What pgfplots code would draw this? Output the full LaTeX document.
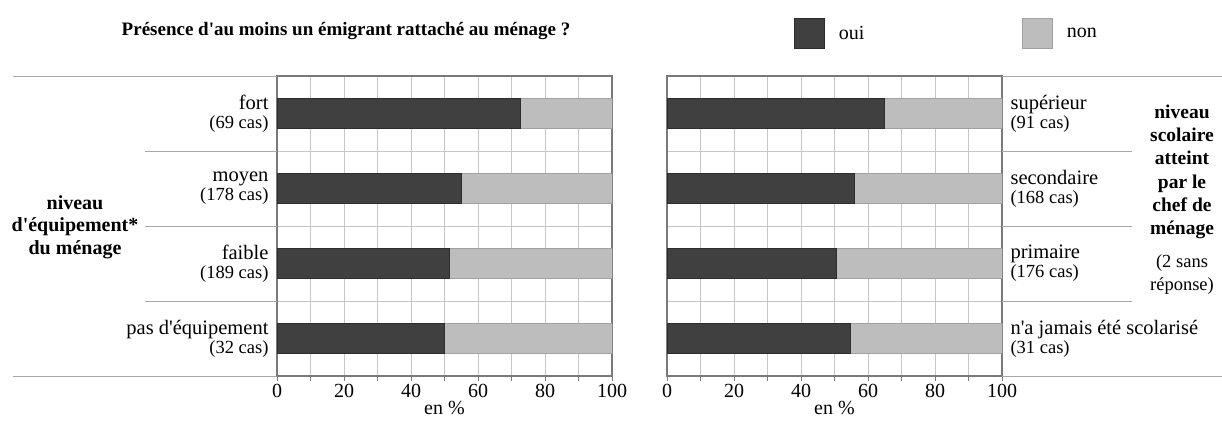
\documentclass[border=0pt]{standalone}
\usepackage{pgfplots}
\pgfplotsset{compat=1.18}
\usepackage{fontspec}
\setmainfont{Liberation Serif}
\definecolor{darkbar}{HTML}{404040}
\definecolor{lightbar}{HTML}{BDBDBD}
\definecolor{gridc}{HTML}{C6C6C6}
\definecolor{framec}{HTML}{7A7A7A}
\definecolor{sepc}{HTML}{A8A8A8}
\newcommand{\q}{\textquotesingle}
\begin{document}
\begin{tikzpicture}[x=1bp,y=1bp]
\useasboundingbox (0,0) rectangle (1222,424);
\pgfplotsset{
  mybars/.style={
    scale only axis, width=335bp, height=300bp,
    xbar stacked, bar width=30bp,
    xmin=0, xmax=100, ymin=-0.5, ymax=3.5,
    xtick={0,20,...,100}, minor xtick={10,30,...,90},
    ytick={0,1,2,3},
    minor ytick={-0.2,0.2,0.5,0.8,1.2,1.5,1.8,2.2,2.5,2.8,3.2},
    xmajorgrids, xminorgrids, yminorgrids, ymajorgrids=false,
    grid style={gridc, line width=0.8bp},
    minor grid style={gridc, line width=0.8bp},
    axis line style={framec, line width=1.3bp},
    tick align=outside, xtick pos=left,
    major x tick style={framec, line width=0.8bp},
    minor x tick style={framec, line width=0.8bp},
    major tick length=5bp, minor tick length=5bp,
    major y tick style={draw=none}, minor y tick style={draw=none},
    /pgf/number format/assume math mode=true,
    xticklabel style={font=\fontsize{20bp}{22bp}\selectfont, inner sep=3bp},
    xlabel={en \%},
    xlabel style={font=\fontsize{20bp}{22bp}\selectfont, yshift=3bp},
    yticklabel style={font=\fontsize{20.5bp}{19bp}\selectfont},
  },
  dk/.style={fill=darkbar, draw=darkbar!70!black, line width=0.6bp},
  lt/.style={fill=lightbar, draw=lightbar!85!black, line width=0.6bp},
}
% left axis
\begin{axis}[mybars, at={(277bp,48bp)}, anchor=south west,
  yticklabel style={align=right},
  yticklabels={{pas d\q équipement\\{\fontsize{18.5bp}{19bp}\selectfont(32 cas)}},
               {faible\\{\fontsize{18.5bp}{19bp}\selectfont(189 cas)}},
               {moyen\\{\fontsize{18.5bp}{19bp}\selectfont(178 cas)}},
               {fort\\{\fontsize{18.5bp}{19bp}\selectfont(69 cas)}}},
]
\addplot[dk] coordinates {(50.0,0) (51.3,1) (55.1,2) (72.5,3)};
\addplot[lt] coordinates {(50.0,0) (48.7,1) (44.9,2) (27.5,3)};
\end{axis}
% right axis
\begin{axis}[mybars, at={(667bp,48bp)}, anchor=south west,
  yticklabel pos=right,
  yticklabel style={align=left, anchor=west},
  yticklabels={{n\q a jamais été scolarisé\\{\fontsize{18.5bp}{19bp}\selectfont(31 cas)}},
               {primaire\\{\fontsize{18.5bp}{19bp}\selectfont(176 cas)}},
               {secondaire\\{\fontsize{18.5bp}{19bp}\selectfont(168 cas)}},
               {supérieur\\{\fontsize{18.5bp}{19bp}\selectfont(91 cas)}}},
  legend columns=2,
  legend cell align=left,
  legend image code/.code={\draw[#1] (0bp,-15bp) rectangle (30bp,15bp); \path (42bp,0bp);},
  legend style={at={(rel axis cs:0.379,1)}, anchor=south west, yshift=27bp,
    draw=none, fill=none, inner sep=0pt,
    font=\fontsize{20bp}{22bp}\selectfont,
    nodes={inner sep=2bp},
    /tikz/every even column/.append style={column sep=156bp}},
]
\addplot[dk] coordinates {(54.8,0) (50.6,1) (56.0,2) (64.8,3)};
\addlegendentry{oui}
\addplot[lt] coordinates {(45.2,0) (49.4,1) (44.0,2) (35.2,3)};
\addlegendentry{non}
\end{axis}
% separator lines
\begin{scope}[sepc, line width=1bp]
\draw (13,348) -- (277,348);
\draw (13,48) -- (277,48);
\draw (145,273) -- (277,273);
\draw (145,198) -- (277,198);
\draw (145,123) -- (277,123);
\draw (1002,348) -- (1222,348);
\draw (1002,48) -- (1222,48);
\draw (1002,273) -- (1132,273);
\draw (1002,198) -- (1132,198);
\draw (1002,123) -- (1132,123);
\end{scope}
% title
\node[font=\fontsize{19bp}{22bp}\selectfont\bfseries] at (346,393) {Présence d\q au moins un émigrant rattaché au ménage ?};
% group labels
\node[align=center, font=\fontsize{20bp}{22.5bp}\selectfont\bfseries] at (75,197)
  {niveau\\d\q équipement*\\du ménage};
\node[align=center, font=\fontsize{19.5bp}{23.2bp}\selectfont\bfseries] at (1182,224)
  {niveau\\scolaire\\atteint\\par le\\chef de\\ménage\\[10bp]{\mdseries\fontsize{18.5bp}{23bp}\selectfont(2 sans}\\{\mdseries\fontsize{18.5bp}{23bp}\selectfont réponse)}};
\end{tikzpicture}
\end{document}
